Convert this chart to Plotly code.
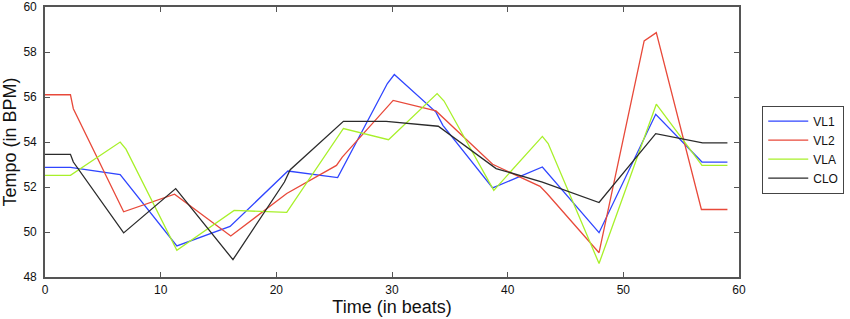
import plotly.graph_objects as go

# ---- data ----
vl1_x = [0, 2.2, 6.5, 11.4, 16.0, 21.0, 25.3, 29.6, 30.2, 33.8, 34.4, 38.7, 43.0, 47.9, 52.8, 56.8, 59.0]
vl1_y = [52.87, 52.87, 52.55, 49.38, 50.25, 52.71, 52.42, 56.6, 57.0, 55.33, 54.74, 51.96, 52.89, 49.97, 55.23, 53.11, 53.11]

vl2_x = [0, 2.2, 2.45, 6.8, 11.2, 16.06, 20.9, 25.2, 25.7, 30.1, 33.8, 38.7, 42.8, 43.4, 47.9, 51.8, 52.85, 56.75, 59.0]
vl2_y = [56.1, 56.1, 55.48, 50.9, 51.68, 49.82, 51.71, 52.96, 53.33, 55.85, 55.38, 53.01, 52.03, 51.71, 49.08, 58.49, 58.86, 51.0, 51.0]

vla_x = [0, 2.2, 6.5, 7.0, 11.4, 16.35, 20.9, 25.8, 29.7, 33.9, 34.5, 38.8, 43.0, 43.5, 47.9, 52.85, 56.8, 59.0]
vla_y = [52.52, 52.52, 54.0, 53.68, 49.19, 50.96, 50.87, 54.6, 54.1, 56.15, 55.82, 51.85, 54.25, 53.93, 48.6, 55.68, 52.96, 52.96]

clo_x = [0, 2.2, 2.45, 6.8, 11.3, 16.25, 20.7, 21.2, 25.8, 29.5, 34.0, 39.0, 43.0, 47.9, 52.8, 56.85, 59.0]
clo_y = [53.45, 53.45, 53.11, 49.96, 51.93, 48.77, 52.22, 52.77, 54.92, 54.92, 54.7, 52.82, 52.22, 51.31, 54.37, 53.96, 53.96]

series_names = ["VL1", "VL2", "VLA", "CLO"]
series_x = [vl1_x, vl2_x, vla_x, clo_x]
series_y = [vl1_y, vl2_y, vla_y, clo_y]
series_colors = ["#2f45ff", "#e8493a", "#a8f02a", "#2b2b2b"]

x_ticks = [0, 10, 20, 30, 40, 50, 60]
y_ticks = [48, 50, 52, 54, 56, 58, 60]

FONT = "Liberation Sans, Arial, Helvetica, sans-serif"

fig = go.Figure()
for name, xs, ys, col in zip(series_names, series_x, series_y, series_colors):
    fig.add_trace(go.Scatter(x=xs, y=ys, mode="lines", name=name,
                             line=dict(color=col, width=1.3)))

axis_common = dict(
    showline=True, linecolor="#555555", linewidth=1.6, mirror="ticks",
    ticks="inside", ticklen=5, tickwidth=1.2, tickcolor="#555555",
    showgrid=False, zeroline=False, automargin=False,
    tickfont=dict(family=FONT, size=12, color="#111111"),
)

fig.update_layout(
    width=850, height=319,
    margin=dict(l=45, r=110, t=7, b=42),
    paper_bgcolor="white", plot_bgcolor="white",
    font=dict(family=FONT, color="#111111"),
    xaxis=dict(range=[0, 60], tickvals=x_ticks, ticktext=[str(v) for v in x_ticks],
               title=dict(text="Time (in beats)", font=dict(family=FONT, size=18), standoff=0),
               ticklabelstandoff=1,
               **axis_common),
    yaxis=dict(range=[48, 60], tickvals=y_ticks, ticktext=[str(v) for v in y_ticks],
               title=dict(text="Tempo (in BPM)", font=dict(family=FONT, size=18), standoff=2),
               ticklabelstandoff=4,
               **axis_common),
    legend=dict(x=1.032, y=0.635, xanchor="left", yanchor="top",
                bordercolor="#444444", borderwidth=1, bgcolor="white",
                font=dict(family=FONT, size=12, color="#111111"),
                tracegroupgap=0, itemwidth=40),
    showlegend=True,
)

fig.write_html("out.html", config={"displayModeBar": False},
               post_script="document.body.style.margin='0';document.body.style.overflow='hidden';")
